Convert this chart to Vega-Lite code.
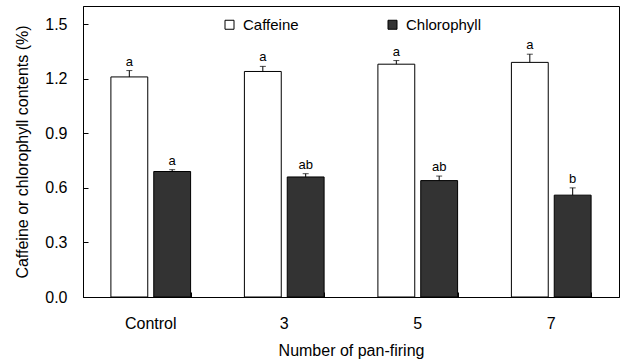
{
  "$schema": "https://vega.github.io/schema/vega-lite/v6.json",
  "autosize": {"type": "none"},
  "padding": {"left": 83, "top": 6, "right": 4, "bottom": 65},
  "width": 536,
  "height": 291,
  "background": "white",
  "view": {"stroke": "black", "strokeWidth": 1},
  "config": {
    "font": "Liberation Sans",
    "view": {"stroke": "black", "strokeWidth": 1},
    "axis": {"labelFont": "Liberation Sans", "titleFont": "Liberation Sans", "labelColor": "black", "titleColor": "black", "tickColor": "black", "domainColor": "black", "tickWidth": 1, "grid": false, "labelFontSize": 16, "titleFontSize": 16, "titleFontWeight": "normal", "zindex": 1}
  },
  "data": {
    "values": [
      {"group": "Control", "type": "Caffeine", "value": 1.21, "upper": 1.245, "letter": "a"},
      {"group": "Control", "type": "Chlorophyll", "value": 0.69, "upper": 0.70, "letter": "a"},
      {"group": "3", "type": "Caffeine", "value": 1.24, "upper": 1.268, "letter": "a"},
      {"group": "3", "type": "Chlorophyll", "value": 0.66, "upper": 0.678, "letter": "ab"},
      {"group": "5", "type": "Caffeine", "value": 1.28, "upper": 1.30, "letter": "a"},
      {"group": "5", "type": "Chlorophyll", "value": 0.64, "upper": 0.665, "letter": "ab"},
      {"group": "7", "type": "Caffeine", "value": 1.29, "upper": 1.335, "letter": "a"},
      {"group": "7", "type": "Chlorophyll", "value": 0.56, "upper": 0.60, "letter": "b"}
    ]
  },
  "resolve": {"axis": {"x": "independent", "y": "independent"}},
  "encoding": {
    "xOffset": {"field": "type", "type": "nominal", "sort": ["Caffeine", "Chlorophyll"], "scale": {"paddingInner": 0.14, "paddingOuter": 0}}
  },
  "layer": [
    {
      "mark": {"type": "bar", "stroke": "black", "strokeWidth": 1},
      "encoding": {
        "x": {"field": "group", "type": "nominal", "sort": ["Control", "3", "5", "7"],
          "scale": {"paddingInner": 0.403, "paddingOuter": 0.209},
          "axis": {"orient": "bottom", "title": "Number of pan-firing", "labelAngle": 0, "ticks": false, "domain": true, "labelPadding": 18, "titlePadding": 11}},
        "y": {"field": "value", "type": "quantitative",
          "scale": {"domain": [0, 1.6], "nice": false},
          "axis": {"orient": "left", "title": "Caffeine or chlorophyll contents (%)", "values": [0, 0.3, 0.6, 0.9, 1.2, 1.5], "format": ".1f", "ticks": false, "domain": true, "labelPadding": 16, "titlePadding": 14}},
        "color": {"field": "type", "type": "nominal",
          "scale": {"domain": ["Caffeine", "Chlorophyll"], "range": ["white", "#333333"]},
          "legend": {"title": null, "orient": "none", "legendX": 139, "legendY": 11, "direction": "horizontal", "columns": 2, "columnPadding": 86, "symbolType": "square", "symbolSize": 81, "symbolStrokeColor": "black", "symbolStrokeWidth": 1, "labelFontSize": 15, "labelFont": "Liberation Sans", "labelColor": "black", "labelOffset": 6}}
      }
    },
    {
      "mark": {"type": "rule", "color": "black", "strokeWidth": 1},
      "encoding": {
        "x": {"field": "group", "type": "nominal", "sort": ["Control", "3", "5", "7"],
          "axis": {"orient": "top", "offset": -291, "title": null, "labels": false, "domain": false, "ticks": true, "tickSize": 5, "tickBand": "extent"}},
        "y": {"field": "value", "type": "quantitative",
          "axis": {"orient": "right", "offset": -536, "title": null, "labels": false, "domain": false, "ticks": true, "tickSize": 5, "values": [0, 0.3, 0.6, 0.9, 1.2, 1.5]}},
        "y2": {"field": "upper"}
      }
    },
    {
      "mark": {"type": "tick", "color": "black", "thickness": 1, "size": 6},
      "encoding": {
        "x": {"field": "group", "type": "nominal", "sort": ["Control", "3", "5", "7"], "axis": null},
        "y": {"field": "upper", "type": "quantitative", "axis": null}
      }
    },
    {
      "mark": {"type": "text", "baseline": "bottom", "dy": -2, "fontSize": 13, "font": "Liberation Sans", "color": "black"},
      "encoding": {
        "x": {"field": "group", "type": "nominal", "sort": ["Control", "3", "5", "7"], "axis": null},
        "y": {"field": "upper", "type": "quantitative", "axis": null},
        "text": {"field": "letter"}
      }
    }
  ]
}
